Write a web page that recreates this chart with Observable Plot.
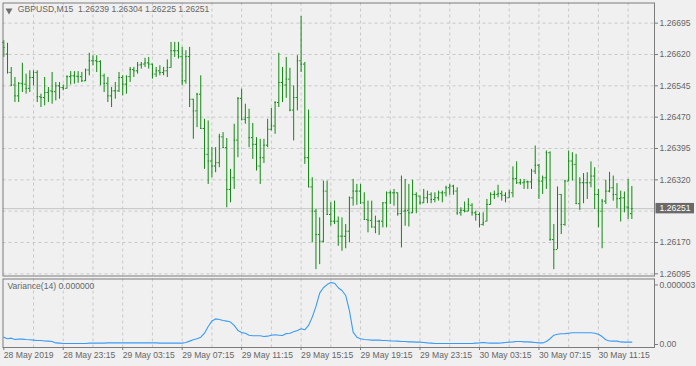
<!DOCTYPE html>
<html><head><meta charset="utf-8">
<script src="https://cdn.jsdelivr.net/npm/d3@7"></script>
<script src="https://cdn.jsdelivr.net/npm/@observablehq/plot@0.6"></script>
<style>
html,body{margin:0;padding:0;background:#f0f0f0;}
#chart{position:relative;width:696px;height:366px;overflow:hidden;background:#f0f0f0;}
#chart svg{display:block;}
</style></head><body><div id="chart"></div>
<script>
// ---- data (GBPUSD M15, bar 0 = 28 May 2019 19:15) ----
const barOpen=[1.26649,1.26621,1.26577,1.26547,1.26521,1.26551,1.26549,1.26539,1.26565,1.26577,
1.26519,1.26517,1.26529,1.26533,1.26531,1.26545,1.26541,1.26539,1.26567,1.26569,
1.26568,1.26567,1.26557,1.26583,1.26605,1.26605,1.26603,1.26569,1.26551,1.26521,
1.26533,1.26533,1.26565,1.26549,1.26567,1.26584,1.26581,1.26595,1.26597,1.26600,
1.26597,1.26573,1.26581,1.26577,1.26581,1.26589,1.26629,1.26629,1.26615,1.26557,
1.26615,1.26513,1.26485,1.26525,1.26443,1.26381,1.26365,1.26353,1.26361,1.26423,
1.26397,1.26297,1.26325,1.26415,1.26515,1.26465,1.26469,1.26421,1.26405,1.26353,
1.26373,1.26403,1.26441,1.26449,1.26505,1.26553,1.26547,1.26561,1.26487,1.26517,
1.26605,1.26597,1.26373,1.26303,1.26245,1.26189,1.26173,1.26293,1.26237,1.26221,
1.26221,1.26185,1.26185,1.26197,1.26277,1.26293,1.26293,1.26265,1.26225,1.26223,
1.26207,1.26221,1.26221,1.26265,1.26289,1.26289,1.26289,1.26239,1.26245,1.26247,
1.26241,1.26285,1.26281,1.26265,1.26277,1.26285,1.26273,1.26277,1.26289,1.26289,
1.26301,1.26305,1.26293,1.26241,1.26247,1.26245,1.26259,1.26241,1.26237,1.26213,
1.26221,1.26261,1.26285,1.26285,1.26287,1.26283,1.26277,1.26289,1.26323,1.26313,
1.26313,1.26315,1.26315,1.26341,1.26355,1.26317,1.26325,1.26385,1.26177,1.26153,
1.26285,1.26213,1.26317,1.26365,1.26357,1.26263,1.26313,1.26313,1.26313,1.26329,
1.26285,1.26245,1.26269,1.26293,1.26301,1.26285,1.26275,1.26277,1.26255,1.26239];
const barHigh=[1.26653,1.26647,1.26589,1.26565,1.26553,1.26599,1.26573,1.26581,1.26581,1.26581,
1.26525,1.26565,1.26541,1.26577,1.26553,1.26553,1.26547,1.26569,1.26579,1.26579,
1.26579,1.26577,1.26585,1.26623,1.26617,1.26617,1.26605,1.26573,1.26565,1.26541,
1.26553,1.26577,1.26569,1.26569,1.26589,1.26589,1.26601,1.26601,1.26611,1.26613,
1.26597,1.26589,1.26593,1.26589,1.26607,1.26649,1.26649,1.26649,1.26637,1.26629,
1.26637,1.26513,1.26527,1.26569,1.26465,1.26461,1.26397,1.26397,1.26429,1.26433,
1.26419,1.26345,1.26453,1.26517,1.26537,1.26501,1.26489,1.26455,1.26421,1.26417,
1.26417,1.26465,1.26491,1.26507,1.26623,1.26589,1.26613,1.26587,1.26545,1.26617,
1.26711,1.26601,1.26487,1.26325,1.26249,1.26229,1.26317,1.26317,1.26265,1.26269,
1.26231,1.26229,1.26213,1.26279,1.26321,1.26309,1.26309,1.26289,1.26269,1.26269,
1.26233,1.26223,1.26265,1.26291,1.26293,1.26297,1.26289,1.26329,1.26321,1.26309,
1.26319,1.26289,1.26281,1.26297,1.26293,1.26289,1.26289,1.26293,1.26293,1.26305,
1.26309,1.26307,1.26301,1.26253,1.26267,1.26275,1.26263,1.26245,1.26241,1.26241,
1.26273,1.26289,1.26293,1.26307,1.26293,1.26289,1.26295,1.26351,1.26363,1.26321,
1.26321,1.26317,1.26345,1.26401,1.26357,1.26329,1.26389,1.26387,1.26213,1.26303,
1.26285,1.26319,1.26389,1.26385,1.26381,1.26325,1.26335,1.26337,1.26363,1.26349,
1.26297,1.26273,1.26319,1.26338,1.26329,1.26311,1.26293,1.26291,1.26321,1.26304];
const barLow=[1.26613,1.26573,1.26543,1.26505,1.26505,1.26529,1.26525,1.26529,1.26545,1.26505,
1.26493,1.26497,1.26505,1.26501,1.26509,1.26513,1.26533,1.26537,1.26547,1.26549,
1.26551,1.26553,1.26555,1.26569,1.26593,1.26577,1.26545,1.26529,1.26505,1.26493,
1.26513,1.26529,1.26521,1.26525,1.26553,1.26565,1.26573,1.26585,1.26589,1.26585,
1.26561,1.26565,1.26569,1.26569,1.26565,1.26587,1.26613,1.26609,1.26545,1.26549,
1.26493,1.26417,1.26445,1.26441,1.26345,1.26309,1.26325,1.26337,1.26349,1.26395,
1.26253,1.26265,1.26297,1.26373,1.26461,1.26453,1.26397,1.26369,1.26341,1.26309,
1.26359,1.26397,1.26437,1.26429,1.26493,1.26505,1.26515,1.26483,1.26413,1.26485,
1.26577,1.26357,1.26301,1.26169,1.26105,1.26117,1.26169,1.26235,1.26209,1.26213,
1.26161,1.26149,1.26155,1.26169,1.26257,1.26259,1.26261,1.26223,1.26193,1.26205,
1.26191,1.26187,1.26205,1.26205,1.26261,1.26257,1.26233,1.26157,1.26209,1.26207,
1.26239,1.26239,1.26259,1.26263,1.26263,1.26263,1.26265,1.26269,1.26265,1.26279,
1.26283,1.26283,1.26235,1.26233,1.26241,1.26243,1.26233,1.26221,1.26205,1.26209,
1.26219,1.26259,1.26273,1.26277,1.26269,1.26265,1.26275,1.26277,1.26309,1.26307,
1.26297,1.26297,1.26297,1.26333,1.26273,1.26285,1.26297,1.26173,1.26105,1.26153,
1.26189,1.26209,1.26315,1.26317,1.26261,1.26247,1.26263,1.26273,1.26301,1.26249,
1.26205,1.26155,1.26261,1.26289,1.26269,1.26251,1.26219,1.26241,1.26225,1.26225];
const barClose=[1.26637,1.26577,1.26547,1.26521,1.26551,1.26549,1.26539,1.26565,1.26577,1.26519,
1.26517,1.26529,1.26533,1.26531,1.26545,1.26541,1.26539,1.26567,1.26569,1.26568,
1.26567,1.26557,1.26583,1.26605,1.26605,1.26603,1.26569,1.26551,1.26521,1.26533,
1.26533,1.26565,1.26549,1.26567,1.26584,1.26581,1.26595,1.26597,1.26600,1.26597,
1.26573,1.26581,1.26577,1.26581,1.26589,1.26629,1.26629,1.26615,1.26557,1.26615,
1.26513,1.26485,1.26525,1.26443,1.26381,1.26365,1.26353,1.26361,1.26423,1.26397,
1.26297,1.26325,1.26415,1.26515,1.26465,1.26469,1.26421,1.26405,1.26353,1.26373,
1.26403,1.26441,1.26449,1.26505,1.26553,1.26547,1.26561,1.26487,1.26517,1.26605,
1.26597,1.26373,1.26303,1.26245,1.26189,1.26173,1.26293,1.26237,1.26221,1.26221,
1.26185,1.26185,1.26197,1.26277,1.26293,1.26293,1.26265,1.26225,1.26223,1.26207,
1.26221,1.26221,1.26265,1.26289,1.26289,1.26289,1.26239,1.26245,1.26247,1.26241,
1.26285,1.26281,1.26265,1.26277,1.26285,1.26273,1.26277,1.26289,1.26289,1.26301,
1.26305,1.26293,1.26241,1.26247,1.26245,1.26261,1.26241,1.26237,1.26213,1.26217,
1.26261,1.26285,1.26285,1.26287,1.26283,1.26277,1.26289,1.26323,1.26313,1.26313,
1.26315,1.26315,1.26341,1.26355,1.26317,1.26325,1.26385,1.26177,1.26153,1.26285,
1.26213,1.26317,1.26365,1.26357,1.26263,1.26313,1.26313,1.26313,1.26329,1.26285,
1.26245,1.26269,1.26293,1.26301,1.26285,1.26275,1.26277,1.26255,1.26253,1.26251];
// Variance(14), in units of 1e-6
const varianceMicro=[0.37,0.29,0.32,0.25,0.27,0.27,0.25,0.24,0.22,0.20,
0.20,0.18,0.17,0.15,0.08,0.07,0.05,0.05,0.05,0.05,
0.05,0.05,0.05,0.07,0.07,0.07,0.07,0.07,0.08,0.08,
0.08,0.08,0.08,0.08,0.08,0.08,0.08,0.08,0.08,0.08,
0.08,0.08,0.07,0.07,0.07,0.07,0.07,0.07,0.07,0.10,
0.17,0.24,0.29,0.37,0.57,0.91,1.18,1.29,1.26,1.21,
1.18,1.13,0.96,0.71,0.60,0.57,0.47,0.44,0.44,0.44,
0.40,0.42,0.47,0.49,0.47,0.45,0.55,0.57,0.64,0.71,
0.79,0.74,0.96,1.38,1.92,2.59,2.86,3.02,3.12,3.09,
2.86,2.72,2.47,1.71,0.62,0.37,0.29,0.25,0.24,0.22,
0.22,0.22,0.20,0.20,0.18,0.18,0.17,0.15,0.15,0.13,
0.13,0.12,0.12,0.10,0.08,0.07,0.05,0.05,0.05,0.05,
0.05,0.05,0.05,0.05,0.05,0.05,0.05,0.07,0.08,0.10,
0.08,0.07,0.07,0.07,0.08,0.10,0.12,0.13,0.15,0.15,
0.13,0.13,0.12,0.10,0.08,0.08,0.15,0.29,0.47,0.52,
0.54,0.55,0.57,0.59,0.59,0.59,0.59,0.59,0.59,0.57,
0.52,0.40,0.24,0.18,0.17,0.17,0.13,0.12,0.12,0.12];
const timeTickIndex=[0,16,32,48,64,80,96,112,128,144,160];
const timeTickLabels=["28 May 2019","28 May 23:15","29 May 03:15","29 May 07:15","29 May 11:15","29 May 15:15","29 May 19:15","29 May 23:15","30 May 03:15","30 May 07:15","30 May 11:15"];
const priceGrid=[1.26095,1.26170,1.26245,1.26320,1.26395,1.26470,1.26545,1.26620,1.26695];
const priceLabels=[1.26095,1.26170,1.26320,1.26395,1.26470,1.26545,1.26620,1.26695];
const timeGrid=[8,16,24,32,40,48,56,64,72,80,88,96,104,112,120,128,136,144,152,160,168];
const varianceTicks=[0,3];
const titleText="GBPUSD,M15\u00a0 1.26239 1.26304 1.26225 1.26251";
const varianceTitle="Variance(14) 0.000000";

// ---- styles ----
const GREEN="#0e8a0e", BLUE="#3a9af5", GRID="#c8c8c8", FRAME="#7c7c7c", TXT="#666666";
const FONT="'Liberation Sans', Arial, sans-serif";
const bars=barOpen.map((o,i)=>({i,open:o,high:barHigh[i],low:barLow[i],close:barClose[i]}));
const vrows=varianceMicro.map((v,i)=>({i,v}));
const lastClose=barClose[barClose.length-1];
const labelOf=new Map(timeTickIndex.map((d,k)=>[d,timeTickLabels[k]]));
const xOpt={domain:[0,160],range:[3.3,597.9],axis:null};
const baseStyle={background:"transparent",fontFamily:FONT,fontSize:"8.6px",color:TXT,overflow:"visible"};
const dash={stroke:GRID,strokeDasharray:"3,3"};

const topPlot=Plot.plot({
  width:696,height:277,marginLeft:2.5,marginRight:42,marginTop:2.5,marginBottom:1.5,
  style:baseStyle,
  x:xOpt,
  y:{domain:[1.26095,1.26695],range:[273.33,22.67],axis:null},
  marks:[
    Plot.ruleY(priceGrid,dash),
    Plot.ruleX(timeGrid,dash),
    Plot.ruleY([lastClose],{stroke:"#c4c4c4"}),
    Plot.ruleX(bars,{x:"i",y1:"low",y2:"high",stroke:GREEN}),
    Plot.ruleY(bars,{x1:d=>d.i-0.36,x2:"i",y:"open",stroke:GREEN}),
    Plot.ruleY(bars,{x1:"i",x2:d=>d.i+0.36,y:"close",stroke:GREEN}),
    Plot.frame({stroke:FRAME}),
    Plot.axisY({ticks:priceLabels,anchor:"right",label:null,tickSize:3,tickPadding:2,tickFormat:d=>d.toFixed(5),stroke:FRAME,fill:TXT}),
    Plot.dot([0],{frameAnchor:"top-left",dx:6,dy:7.5,symbol:"triangle",r:2.6,rotate:180,fill:"#707070",stroke:null}),
    Plot.text([titleText],{frameAnchor:"top-left",dx:14.8,dy:2.6,fill:TXT}),
    Plot.text([lastClose],{y:d=>d,text:d=>d.toFixed(5),frameAnchor:"right",dx:5,textAnchor:"start",fill:"white"})
  ]
});
// current-price box behind the last label
{
  const svg=topPlot;
  const yy=topPlot.scale("y").apply(lastClose);
  const r=document.createElementNS("http://www.w3.org/2000/svg","rect");
  r.setAttribute("x",655.5);r.setAttribute("y",yy-5.2);r.setAttribute("width",38.5);r.setAttribute("height",10.4);
  r.setAttribute("fill","#6a6a6a");
  svg.insertBefore(r,svg.lastElementChild);
}

const botPlot=Plot.plot({
  width:696,height:89,marginLeft:2.5,marginRight:42,marginTop:1.5,marginBottom:19,
  style:baseStyle,
  x:xOpt,
  y:{domain:[0,3.14],range:[67,4.7],axis:null},
  marks:[
    Plot.ruleX(timeGrid,dash),
    Plot.line(vrows,{x:"i",y:"v",stroke:BLUE,strokeWidth:1.1}),
    Plot.frame({stroke:FRAME}),
    Plot.axisY({ticks:varianceTicks,anchor:"right",label:null,tickSize:3,tickPadding:2,tickFormat:d=>d===0?"0.00":(d*1e-6).toFixed(6),stroke:FRAME,fill:TXT}),
    Plot.axisX({ticks:timeTickIndex,anchor:"bottom",label:null,tickSize:3,tickPadding:1,textAnchor:"start",tickFormat:d=>labelOf.get(d),stroke:FRAME,fill:TXT}),
    Plot.text([varianceTitle],{frameAnchor:"top-left",dx:4.5,dy:3.5,fill:TXT})
  ]
});
const host=document.getElementById("chart");
host.appendChild(topPlot);
host.appendChild(botPlot);
</script></body></html>
